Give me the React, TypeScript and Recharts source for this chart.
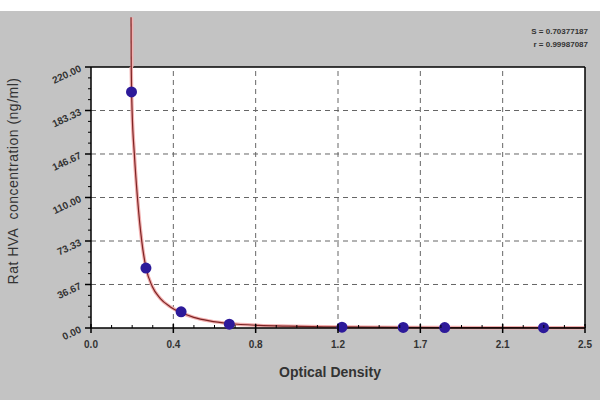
import React from "react";
import { CartesianGrid, ComposedChart, Line, ReferenceLine, Scatter, XAxis, YAxis } from "recharts";

// standard points (OD, concentration)
const pointOD = [0.205, 0.278, 0.456, 0.7, 1.27, 1.58, 1.79, 2.29];
const pointConc = [199, 50.5, 13.6, 3.2, 0.7, 0.5, 0.4, 0.3];

// fitted curve
const curveOD = [0.2036, 0.2055, 0.208, 0.2196, 0.235, 0.257, 0.278, 0.31, 0.35, 0.4, 0.456, 0.52, 0.6, 0.7, 0.85, 1.0, 1.25, 1.6, 2.0, 2.5];
const curveConc = [220, 199, 183, 146, 110, 73, 51, 35, 25, 18, 13, 9, 6, 3.8, 2.2, 1.5, 0.9, 0.5, 0.3, 0.15];

const xTickValues = [0, 0.4167, 0.8333, 1.25, 1.6667, 2.0833, 2.5];
const xTickLabels = ["0.0", "0.4", "0.8", "1.2", "1.7", "2.1", "2.5"];
const yTickValues = [0, 36.667, 73.333, 110, 146.667, 183.333, 220];
const yTickLabels = ["0.00", "36.67", "73.33", "110.00", "146.67", "183.33", "220.00"];

const points = pointOD.map((x, i) => ({ x, y: pointConc[i] }));
const curve = curveOD.map((x, i) => ({ x, y: curveConc[i] }));

const withMinor = (major: number[]) =>
  major.flatMap((v, i) => (i === 0 ? [v] : [1, 2, 3, 4].map((k) => major[i - 1] + ((v - major[i - 1]) * k) / 4)));
const xAllTicks = withMinor(xTickValues);
const yAllTicks = withMinor(yTickValues);

const font = "'Liberation Sans', Arial, sans-serif";

function YTick(props: any) {
  const { x, y, payload } = props;
  const i = yTickValues.findIndex((v) => Math.abs(v - payload.value) < 1e-6);
  if (i < 0) return <line x1={x - 3} x2={x} y1={y} y2={y} stroke="#000" />;
  const tx = x - 9;
  const ty = y + 4;
  return (
    <g>
      <line x1={x - 6} x2={x} y1={y} y2={y} stroke="#000" strokeWidth={1.5} />
      <text x={tx} y={ty} textAnchor="end" transform={`rotate(-25 ${tx} ${ty})`} fontSize={10} fontWeight="bold" fill="#333" fontFamily={font}>
        {yTickLabels[i]}
      </text>
    </g>
  );
}

function XTick(props: any) {
  const { x, y, payload } = props;
  const i = xTickValues.findIndex((v) => Math.abs(v - payload.value) < 1e-6);
  if (i < 0) return <line x1={x} x2={x} y1={y - 3} y2={y} stroke="#000" />;
  return (
    <g>
      <line x1={x} x2={x} y1={y - 4} y2={y + 5} stroke="#000" strokeWidth={1.5} />
      <text x={x} y={y + 20} textAnchor="middle" fontSize={10} fontWeight="bold" fill="#333" fontFamily={font}>
        {xTickLabels[i]}
      </text>
    </g>
  );
}

export default function App() {
  return (
    <div
      style={{
        position: "fixed",
        left: 0,
        top: 0,
        width: 600,
        height: 400,
        background: "linear-gradient(#fff 0 11px, #c3c3c3 11px)",
        fontFamily: font,
      }}
    >
      <ComposedChart width={600} height={400} margin={{ top: 67, right: 15, bottom: 0, left: 0 }}>
        <CartesianGrid horizontal={false} vertical={false} fill="#fff" />
        <XAxis
          type="number"
          dataKey="x"
          domain={[0, 2.5]}
          ticks={xAllTicks}
          interval={0}
          height={72}
          tickSize={0}
          tickMargin={0}
          tick={<XTick />}
          axisLine={{ stroke: "#000", strokeWidth: 1.5 }}
        />
        <YAxis
          type="number"
          dataKey="y"
          domain={[0, 220]}
          ticks={yAllTicks}
          interval={0}
          width={91}
          tickSize={0}
          tickMargin={0}
          tick={<YTick />}
          axisLine={{ stroke: "#000", strokeWidth: 1.5 }}
        />
        {yTickValues.slice(1, -1).map((v) => (
          <ReferenceLine key={"h" + v} y={v} stroke="#666" strokeDasharray="5 4" />
        ))}
        {xTickValues.slice(1, -1).map((v) => (
          <ReferenceLine key={"v" + v} x={v} stroke="#666" strokeDasharray="5 4" />
        ))}
        <ReferenceLine y={220} stroke="#000" strokeWidth={1.5} />
        <ReferenceLine x={2.5} stroke="#000" strokeWidth={1.5} />
        <ReferenceLine
          segment={[{ x: curveOD[0] + 0.004, y: 220 }, { x: curveOD[0] + 0.003, y: 262 }]}
          ifOverflow="visible"
          stroke="#f2b0b0"
          strokeWidth={3}
        />
        <ReferenceLine
          segment={[{ x: curveOD[0], y: 220 }, { x: curveOD[0] - 0.001, y: 262 }]}
          ifOverflow="visible"
          stroke="#7d2424"
          strokeWidth={1.2}
        />
        <Line data={curve} dataKey="y" type="monotone" stroke="#f2b0b0" strokeWidth={3.5} dot={false} isAnimationActive={false} />
        <Line data={curve} dataKey="y" type="monotone" stroke="#7d2424" strokeWidth={1.2} dot={false} isAnimationActive={false} />
        <Scatter data={points} dataKey="y" fill="#2d1a9a" shape={(p: any) => <circle cx={p.cx} cy={p.cy} r={5.5} fill="#2d1a9a" />} isAnimationActive={false} />
      </ComposedChart>
      <div style={{ position: "absolute", left: 13, top: 181, transform: "translate(-50%, -50%) rotate(-90deg)", whiteSpace: "pre", fontSize: 14, letterSpacing: 0.5, color: "#333" }}>
        Rat HVA  concentration (ng/ml)
      </div>
      <div style={{ position: "absolute", left: 330, top: 372, transform: "translate(-50%, -50%)", whiteSpace: "pre", fontSize: 14, fontWeight: "bold", color: "#333" }}>
        Optical Density
      </div>
      <div style={{ position: "absolute", right: 12, top: 25, textAlign: "right", fontSize: 8, lineHeight: "13px", fontWeight: "bold", color: "#333", whiteSpace: "pre" }}>
        {"S = 0.70377187\nr = 0.99987087"}
      </div>
    </div>
  );
}
